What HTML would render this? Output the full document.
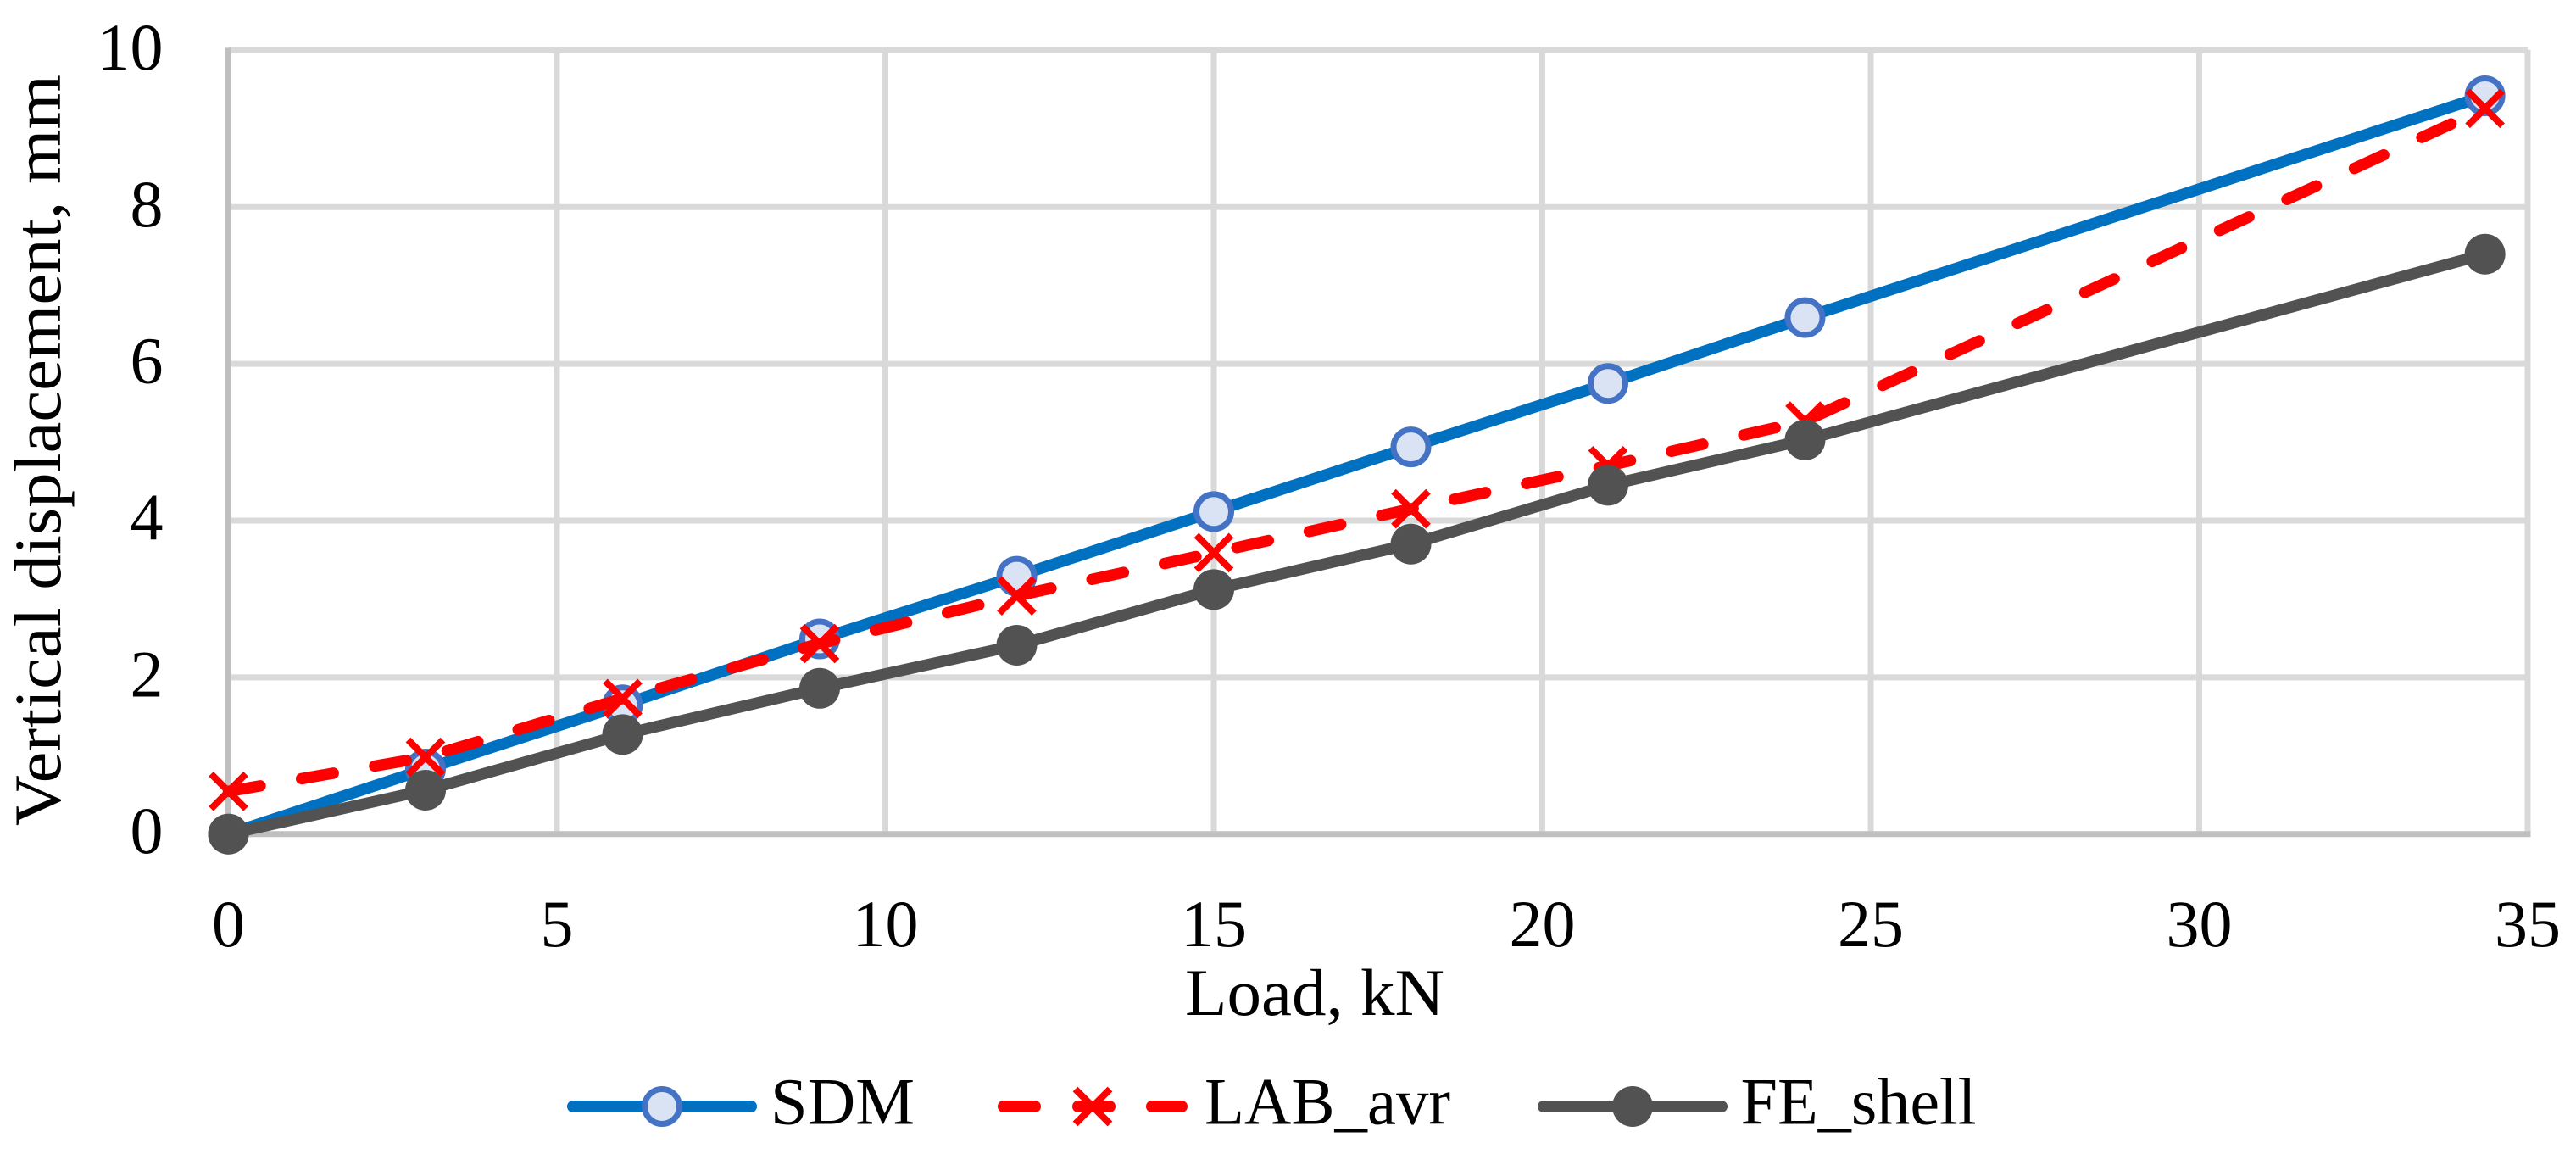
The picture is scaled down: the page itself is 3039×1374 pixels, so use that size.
<!DOCTYPE html>
<html lang="en">
<head>
<meta charset="utf-8">
<title>Vertical displacement vs load</title>
<style>
html,body{margin:0;padding:0;background:#fff;width:3039px;height:1374px;overflow:hidden}
svg{display:block}
text{font-family:"Liberation Serif",serif;fill:#000}
</style>
</head>
<body>
<svg id="chart" width="3039" height="1374" viewBox="0 0 3039 1374" xmlns="http://www.w3.org/2000/svg">
  <g id="grid"></g>
  <g id="ticks"></g>
  <g id="series"></g>
  <text x="1398" y="1197" font-size="78" textLength="306" lengthAdjust="spacingAndGlyphs">Load, kN</text>
  <text transform="translate(71,974) rotate(-90)" x="0" y="0" font-size="78" textLength="886" lengthAdjust="spacingAndGlyphs">Vertical displacement, mm</text>
  <g>
    <g>
      <line x1="676" y1="1305" x2="886" y2="1305" stroke="#0070c0" stroke-width="14" stroke-linecap="round"/>
      <circle cx="781" cy="1305" r="20.5" fill="#dae3f3" stroke="#4472c4" stroke-width="7"/>
      <text x="909" y="1325.5" font-size="78" textLength="170" lengthAdjust="spacingAndGlyphs">SDM</text>
    </g>
    <g>
      <line x1="1184" y1="1305" x2="1221" y2="1305" stroke="#ff0000" stroke-width="14" stroke-linecap="round"/>
      <line x1="1272" y1="1305" x2="1309" y2="1305" stroke="#ff0000" stroke-width="14" stroke-linecap="round"/>
      <line x1="1359" y1="1305" x2="1394" y2="1305" stroke="#ff0000" stroke-width="14" stroke-linecap="round"/>
      <path d="M1268.5 1284.5L1309.5 1325.5M1309.5 1284.5L1268.5 1325.5" fill="none" stroke="#ff0000" stroke-width="8"/>
      <text x="1421" y="1325.5" font-size="78" textLength="290" lengthAdjust="spacingAndGlyphs">LAB_avr</text>
    </g>
    <g>
      <line x1="1821" y1="1305" x2="2031" y2="1305" stroke="#525252" stroke-width="14" stroke-linecap="round"/>
      <circle cx="1926" cy="1305" r="24" fill="#525252"/>
      <text x="2053.5" y="1325.5" font-size="78" textLength="278" lengthAdjust="spacingAndGlyphs">FE_shell</text>
    </g>
  </g>
</svg>
<script>
const loads = [0, 3, 6, 9, 12, 15, 18, 21, 24, 34.35];
const sdmValues = [0, 0.83, 1.65, 2.49, 3.29, 4.115, 4.94, 5.75, 6.59, 9.42];
const labAvrValues = [0.545, 0.98, 1.73, 2.43, 3.04, 3.59, 4.15, 4.70, 5.27, 9.26];
const feShellValues = [0, 0.56, 1.27, 1.86, 2.41, 3.12, 3.70, 4.45, 5.03, 7.40];
const xTickLabels = [0, 5, 10, 15, 20, 25, 30, 35];
const yTickLabels = [0, 2, 4, 6, 8, 10];

const NS = 'http://www.w3.org/2000/svg';
const xScale = v => 269.5 + v * 77.5;
const yScale = v => 983.7 - v * 92.43;
const make = (parent, tag, props) => {
  const el = document.createElementNS(NS, tag);
  for (const k in props) el.setAttribute(k, props[k]);
  parent.appendChild(el);
  return el;
};
const grid = document.getElementById('grid');
const ticks = document.getElementById('ticks');
const series = document.getElementById('series');
const xMin = xTickLabels[0], xMax = xTickLabels[xTickLabels.length - 1];
const yMin = yTickLabels[0], yMax = yTickLabels[yTickLabels.length - 1];

yTickLabels.forEach(v => {
  if (v === yMin) return;
  const g = make(grid, 'line', {x1: xScale(xMin), x2: xScale(xMax), y1: yScale(v), y2: yScale(v), stroke: '#d9d9d9', 'stroke-width': 7});
  
  
});
xTickLabels.forEach(v => {
  if (v === xMin) return;
  const g = make(grid, 'line', {x1: xScale(v), x2: xScale(v), y1: yScale(yMax) - 0.5, y2: yScale(yMin), stroke: '#d9d9d9', 'stroke-width': 7});
  
  
});
const xAxis = make(grid, 'line', {x1: xScale(xMin) - 3.5, x2: xScale(xMax) + 3.5, y1: yScale(yMin), y2: yScale(yMin), stroke: '#bfbfbf', 'stroke-width': 7});


const yAxis = make(grid, 'line', {x1: xScale(xMin), x2: xScale(xMin), y1: yScale(yMax) - 3, y2: yScale(yMin), stroke: '#bfbfbf', 'stroke-width': 7});



xTickLabels.forEach(v => {
  const t = make(ticks, 'text', {x: xScale(v), y: 1116, 'text-anchor': 'middle', 'font-size': 78});
  t.textContent = v;
  
  
});
yTickLabels.forEach(v => {
  const t = make(ticks, 'text', {x: 192.5, y: yScale(v) + 22.5, 'text-anchor': 'end', 'font-size': 78});
  t.textContent = v;
  
  
});

const pts = vals => vals.map((v, i) => xScale(loads[i]) + ',' + yScale(v)).join(' ');

const sdmGroup = make(series, 'g', {});


const sdmLine = make(sdmGroup, 'polyline', {points: pts(sdmValues), fill: 'none', stroke: '#0070c0', 'stroke-width': 13.5, 'stroke-linejoin': 'round'});


sdmValues.forEach((v, i) => {
  const c = make(sdmGroup, 'circle', {cx: xScale(loads[i]), cy: yScale(v), r: 20.5, fill: '#dae3f3', stroke: '#4472c4', 'stroke-width': 7});
  
  
});

const labGroup = make(series, 'g', {});


const labLine = make(labGroup, 'polyline', {points: pts(labAvrValues), fill: 'none', stroke: '#ff0000', 'stroke-width': 13.5, 'stroke-linecap': 'round', 'stroke-linejoin': 'round', 'stroke-dasharray': '38 49.5'});


labAvrValues.forEach((v, i) => {
  const cx = xScale(loads[i]), cy = yScale(v), h = 20.5;
  const m = make(labGroup, 'path', {d: `M${cx - h} ${cy - h}L${cx + h} ${cy + h}M${cx + h} ${cy - h}L${cx - h} ${cy + h}`, fill: 'none', stroke: '#ff0000', 'stroke-width': 8});
  
  
});

const feGroup = make(series, 'g', {});


const feLine = make(feGroup, 'polyline', {points: pts(feShellValues), fill: 'none', stroke: '#525252', 'stroke-width': 13.5, 'stroke-linejoin': 'round'});


feShellValues.forEach((v, i) => {
  const c = make(feGroup, 'circle', {cx: xScale(loads[i]), cy: yScale(v), r: 24, fill: '#525252'});
  
  
});
</script>
</body>
</html>
